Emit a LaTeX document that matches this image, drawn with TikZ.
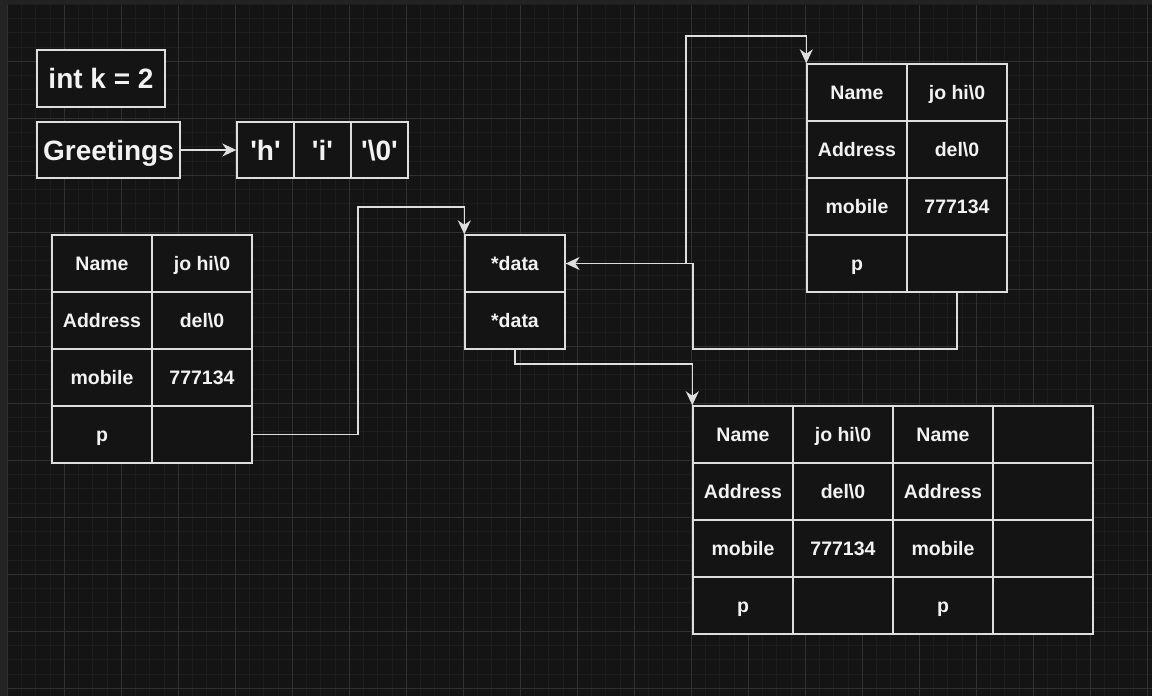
\documentclass[tikz,border=0pt]{standalone}
\usepackage{fontspec}
\newfontfamily\labfont{Liberation Sans}[BoldFont={Liberation Sans Bold}]
\usetikzlibrary{arrows.meta}
\definecolor{canvas}{HTML}{141414}
\definecolor{frame}{HTML}{232323}
\definecolor{gridminor}{HTML}{1D1D1D}
\definecolor{gridmajor}{HTML}{303030}
\definecolor{ink}{HTML}{DEDEDE}
\definecolor{txt}{HTML}{F2F2F2}
\tikzset{
  cell/.style={draw=ink, line width=1.4pt, fill=canvas, text=txt,
    minimum width=100pt, minimum height=57pt, inner sep=0pt,
    text height=14pt, text depth=0pt,
    font=\labfont\bfseries\fontsize{19.5}{23}\selectfont},
  bigcell/.style={cell, text height=20pt,
    font=\labfont\bfseries\fontsize{28}{32}\selectfont},
  link/.style={draw=ink, line width=1.4pt,
    -{Stealth[length=14pt,width=13pt,inset=4.5pt]}},
}
\begin{document}
\begin{tikzpicture}[x=1pt,y=-1pt]
\useasboundingbox (0,0) rectangle (1152,696);
% canvas and grid
\fill[frame] (0,0) rectangle (1152,696);
\fill[canvas] (8,5) rectangle (1152,696);
\foreach \i in {0,...,80} {
  \draw[gridminor, line width=0.8pt] ({7.3+14.25*\i},5) -- ({7.3+14.25*\i},696);
}
\foreach \j in {0,...,48} {
  \draw[gridminor, line width=0.8pt] (8,{4.3+14.25*\j}) -- (1152,{4.3+14.25*\j});
}
\foreach \i in {0,...,20} {
  \draw[gridmajor, line width=0.9pt] ({7.3+57*\i},5) -- ({7.3+57*\i},696);
}
\foreach \j in {1,...,12} {
  \draw[gridmajor, line width=0.9pt] (8,{4.3+57*\j}) -- (1152,{4.3+57*\j});
}

% variables
\node[bigcell, minimum width=128pt] (intk) at (101,78.5) {int k = 2};
\node[bigcell, minimum width=143pt, minimum height=56pt] (greet) at (108.5,150) {Greetings};
\node[bigcell, minimum width=57pt, minimum height=56pt] (ch1) at (265.5,150) {\textquotesingle h\textquotesingle};
\node[bigcell, minimum width=57pt, minimum height=56pt] (ch2) at (322.5,150) {\textquotesingle i\textquotesingle};
\node[bigcell, minimum width=57pt, minimum height=56pt] (ch3) at (379.5,150) {\textquotesingle\textbackslash 0\textquotesingle};

% left record
\node[cell] (L11) at (102,263.5) {Name};
\node[cell] (L12) at (202,263.5) {jo hi\textbackslash 0};
\node[cell] (L21) at (102,320.5) {Address};
\node[cell] (L22) at (202,320.5) {del\textbackslash 0};
\node[cell] (L31) at (102,377.5) {mobile};
\node[cell] (L32) at (202,377.5) {777134};
\node[cell] (L41) at (102,434.5) {p};
\node[cell] (L42) at (202,434.5) {};

% pointer pair
\node[cell] (d1) at (515,263.5) {*data};
\node[cell] (d2) at (515,320.5) {*data};

% upper right record
\node[cell] (T11) at (857,92.5) {Name};
\node[cell] (T12) at (957,92.5) {jo hi\textbackslash 0};
\node[cell] (T21) at (857,149.5) {Address};
\node[cell] (T22) at (957,149.5) {del\textbackslash 0};
\node[cell] (T31) at (857,206.5) {mobile};
\node[cell] (T32) at (957,206.5) {777134};
\node[cell] (T41) at (857,263.5) {p};
\node[cell] (T42) at (957,263.5) {};

% lower record array
\node[cell] (B11) at (743,434.5) {Name};
\node[cell] (B12) at (843,434.5) {jo hi\textbackslash 0};
\node[cell] (B13) at (943,434.5) {Name};
\node[cell] (B14) at (1043,434.5) {};
\node[cell] (B21) at (743,491.5) {Address};
\node[cell] (B22) at (843,491.5) {del\textbackslash 0};
\node[cell] (B23) at (943,491.5) {Address};
\node[cell] (B24) at (1043,491.5) {};
\node[cell] (B31) at (743,548.5) {mobile};
\node[cell] (B32) at (843,548.5) {777134};
\node[cell] (B33) at (943,548.5) {mobile};
\node[cell] (B34) at (1043,548.5) {};
\node[cell] (B41) at (743,605.5) {p};
\node[cell] (B42) at (843,605.5) {};
\node[cell] (B43) at (943,605.5) {p};
\node[cell] (B44) at (1043,605.5) {};

% pointers
\draw[link] (greet.east) -- (ch1.west);
\draw[link] (L42.east) -| (358,207) -| (d1.north west);
\draw[link] (d1.east) -| (686,36) -| (T11.north west);
\draw[link] (T42.south) |- (693,349) |- (d1.east);
\draw[link] (d2.south) |- (600,364) -| (B11.north west);
\end{tikzpicture}
\end{document}
